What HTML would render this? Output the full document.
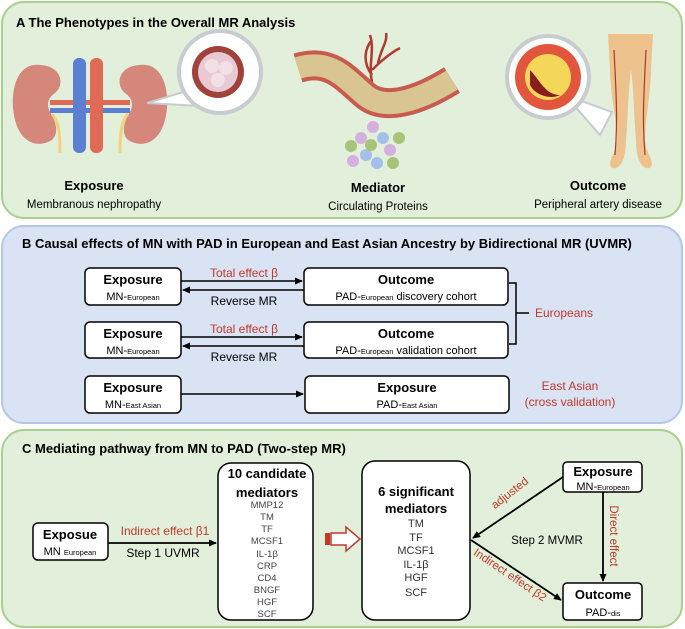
<!DOCTYPE html>
<html><head><meta charset="utf-8"><style>
html,body{margin:0;padding:0;background:#fff}
svg{display:block}
text{font-family:"Liberation Sans",sans-serif}
.b{font-weight:bold}
</style></head><body>
<svg width="685" height="629" viewBox="0 0 685 629" xmlns="http://www.w3.org/2000/svg">
<defs>
<marker id="ah" markerWidth="8" markerHeight="8" refX="7" refY="4" orient="auto" markerUnits="userSpaceOnUse"><path d="M0,0.5 L8,4 L0,7.5 z" fill="#000"/></marker>
</defs>
<!-- Panel A -->
<rect x="2" y="2" width="680" height="216" rx="22" fill="#e2efda" stroke="#a9d18e" stroke-width="2"/>
<text x="16" y="27" font-size="13" class="b">A The Phenotypes in the Overall MR Analysis</text>
<!-- kidneys -->
<path d="M40,65 C15,62 10,95 14,115 C18,140 35,150 52,140 C60,132 55,120 50,112 C46,104 48,98 55,93 C65,85 62,66 40,65 Z" fill="#d4877a"/>
<path d="M140,65 C165,62 170,95 166,115 C162,140 145,150 128,140 C120,132 125,120 130,112 C134,104 132,98 125,93 C115,85 118,66 140,65 Z" fill="#d4877a"/>
<rect x="50" y="100" width="80" height="5" fill="#e06a55"/>
<rect x="50" y="108" width="80" height="5" fill="#5b7fd1"/>
<path d="M52,114 C58,120 60,130 60,153" stroke="#f1d37a" stroke-width="3" fill="none"/>
<path d="M128,114 C122,120 120,130 120,153" stroke="#f1d37a" stroke-width="3" fill="none"/>
<rect x="73" y="58" width="13" height="95" rx="6" fill="#5b7fd1"/>
<rect x="90" y="58" width="13" height="95" rx="6" fill="#e06a55"/>
<!-- magnifier -->
<path d="M147,103 L190,90 L200,106 Z" fill="#fff" stroke="#c8ccd0" stroke-width="2"/>
<circle cx="220" cy="72" r="41" fill="#fff" stroke="#c8ccd0" stroke-width="4"/>
<circle cx="218" cy="72" r="26" fill="#a0413a"/>
<circle cx="218" cy="72" r="20" fill="#e8c9d4"/>
<circle cx="212" cy="66" r="7" fill="#f3e0e6"/><circle cx="226" cy="68" r="7" fill="#f3e0e6"/><circle cx="218" cy="80" r="7" fill="#f3e0e6"/>
<!-- vessel -->
<path d="M372,82 C368,65 375,50 370,35 M372,70 C382,60 392,52 400,48 M378,64 C380,50 388,42 386,33 M372,75 C362,62 365,48 372,40" stroke="#b23a2f" stroke-width="2.5" fill="none"/>
<path d="M298,68 C330,58 345,78 365,95 C385,112 420,100 452,80" stroke="#c85a4e" stroke-width="30" fill="none"/>
<path d="M298,68 C330,58 345,78 365,95 C385,112 420,100 452,80" stroke="#d9c592" stroke-width="22" fill="none"/>
<g fill="#d4b0de"><circle cx="373" cy="127" r="6"/><circle cx="361" cy="138" r="6"/><circle cx="390" cy="150" r="6"/><circle cx="353" cy="161" r="6"/></g>
<g fill="#a3c0ea"><circle cx="383" cy="138" r="6"/><circle cx="366" cy="155" r="6"/><circle cx="377" cy="163" r="6"/></g>
<g fill="#a7c37a"><circle cx="351" cy="146" r="6"/><circle cx="371" cy="145" r="6"/><circle cx="399" cy="138" r="6"/><circle cx="393" cy="163" r="6"/></g>
<!-- outcome magnifier -->
<path d="M565,95 L612,112 L600,135 Z" fill="#fff" stroke="#c8ccd0" stroke-width="2"/>
<circle cx="548" cy="77" r="41" fill="#fff" stroke="#c8ccd0" stroke-width="4"/>
<circle cx="548" cy="77" r="33" fill="#e2563d"/>
<circle cx="548" cy="77" r="23" fill="#f4d758"/>
<path d="M530,70 C540,80 545,95 560,95 C550,100 535,95 530,85 Z" fill="#8a1d1d"/>
<!-- legs -->
<path d="M608,34 L653,34 L651,70 C650,100 645,120 645,140 C646,155 656,162 650,168 C642,170 636,160 636,140 C634,120 634,90 631,70 C628,90 628,120 626,140 C626,160 620,170 612,168 C606,162 616,155 617,140 C617,120 611,100 610,70 Z" fill="#eec28c"/>
<path d="M614,50 C616,90 618,120 615,155 M646,50 C644,90 642,120 645,155" stroke="#a83a2c" stroke-width="1.2" fill="none"/>
<text x="94" y="190" font-size="13" class="b" text-anchor="middle">Exposure</text>
<text x="94" y="208" font-size="11.5" text-anchor="middle">Membranous nephropathy</text>
<text x="378" y="192" font-size="13" class="b" text-anchor="middle">Mediator</text>
<text x="378" y="210" font-size="11.5" text-anchor="middle">Circulating Proteins</text>
<text x="598" y="190" font-size="13" class="b" text-anchor="middle">Outcome</text>
<text x="598" y="208" font-size="11.5" text-anchor="middle">Peripheral artery disease</text>

<!-- Panel B -->
<rect x="2" y="226" width="680" height="197" rx="22" fill="#dae3f3" stroke="#b4c7e7" stroke-width="2"/>
<text x="22" y="248" font-size="13" class="b">B Causal effects of MN with PAD in European and East Asian Ancestry by Bidirectional MR (UVMR)</text>
<g fill="#fff" stroke="#000" stroke-width="1.5">
<rect x="85" y="268" width="96" height="37" rx="5"/>
<rect x="304" y="268" width="204" height="37" rx="5"/>
<rect x="85" y="322" width="96" height="36" rx="5"/>
<rect x="304" y="322" width="204" height="36" rx="5"/>
<rect x="85" y="376" width="96" height="37" rx="5"/>
<rect x="305" y="376" width="204" height="37" rx="5"/>
</g>
<g stroke="#000" stroke-width="1.5" fill="none">
<line x1="181" y1="281" x2="302" y2="281" marker-end="url(#ah)"/>
<line x1="304" y1="290" x2="183" y2="290" marker-end="url(#ah)"/>
<line x1="181" y1="337" x2="302" y2="337" marker-end="url(#ah)"/>
<line x1="304" y1="346" x2="183" y2="346" marker-end="url(#ah)"/>
<line x1="181" y1="394" x2="303" y2="394" marker-end="url(#ah)"/>
<path d="M509,283 L516,283 L516,344 L509,344 M516,313 L529,313"/>
</g>
<g font-size="12" text-anchor="middle">
<text x="244" y="277" fill="#c0392b">Total effect β</text>
<text x="244" y="305">Reverse MR</text>
<text x="244" y="333" fill="#c0392b">Total effect β</text>
<text x="244" y="361">Reverse MR</text>
<text x="570" y="390" fill="#c0392b">East Asian</text>
<text x="570" y="406" fill="#c0392b">(cross validation)</text>
</g>
<text x="535" y="317" font-size="12" fill="#c0392b">Europeans</text>
<g text-anchor="middle">
<text x="133" y="284" font-size="13" class="b">Exposure</text>
<text x="133" y="300" font-size="11">MN-<tspan font-size="7.5">European</tspan></text>
<text x="406" y="284" font-size="13" class="b">Outcome</text>
<text x="406" y="300" font-size="11">PAD-<tspan font-size="7.5">European</tspan> discovery cohort</text>
<text x="133" y="338" font-size="13" class="b">Exposure</text>
<text x="133" y="354" font-size="11">MN-<tspan font-size="7.5">European</tspan></text>
<text x="406" y="338" font-size="13" class="b">Outcome</text>
<text x="406" y="354" font-size="11">PAD-<tspan font-size="7.5">European</tspan>  validation cohort</text>
<text x="133" y="392" font-size="13" class="b">Exposure</text>
<text x="133" y="408" font-size="11">MN-<tspan font-size="7.5">East Asian</tspan></text>
<text x="407" y="392" font-size="13" class="b">Exposure</text>
<text x="407" y="408" font-size="11">PAD-<tspan font-size="7.5">East Asian</tspan></text>
</g>

<!-- Panel C -->
<rect x="2" y="430" width="680" height="197" rx="22" fill="#e2efda" stroke="#a9d18e" stroke-width="2"/>
<text x="22" y="453" font-size="13" class="b">C Mediating pathway from MN to PAD (Two-step MR)</text>
<g fill="#fff" stroke="#000" stroke-width="1.5">
<rect x="33" y="523" width="75" height="37" rx="5"/>
<rect x="218" y="463" width="95" height="157" rx="13"/>
<rect x="362" y="461" width="108" height="159" rx="13"/>
<rect x="563" y="462" width="79" height="30" rx="4"/>
<rect x="563" y="583" width="79" height="37" rx="4"/>
</g>
<g stroke="#000" stroke-width="1.8" fill="none">
<line x1="108" y1="543" x2="216" y2="543" marker-end="url(#ah)"/>
<line x1="563" y1="477" x2="473" y2="538" marker-end="url(#ah)"/>
<line x1="471" y1="540" x2="561" y2="600" marker-end="url(#ah)"/>
<line x1="603" y1="492" x2="603" y2="581" marker-end="url(#ah)"/>
</g>
<!-- hollow arrow -->
<path d="M331,533 L346,533 L346,527 L360,539 L346,551 L346,545 L331,545 Z" fill="#fff" stroke="#c0392b" stroke-width="1.5"/>
<rect x="325" y="533" width="5" height="12" fill="#c0392b"/>
<text x="70" y="539" font-size="13" class="b" text-anchor="middle">Exposue</text>
<text x="70" y="555" font-size="11" text-anchor="middle">MN <tspan font-size="7.5">European</tspan></text>
<text x="165" y="535" font-size="12" fill="#c0392b" text-anchor="middle">Indirect effect β1</text>
<text x="163" y="557" font-size="12" text-anchor="middle">Step 1 UVMR</text>
<g text-anchor="middle">
<text x="267" y="478" font-size="13" class="b">10 candidate</text>
<text x="267" y="497" font-size="13" class="b">mediators</text>
<g font-size="9.5" fill="#444">
<text x="267" y="508">MMP12</text><text x="267" y="520">TM</text><text x="267" y="532">TF</text>
<text x="267" y="544">MCSF1</text><text x="267" y="557">IL-1β</text><text x="267" y="569">CRP</text>
<text x="267" y="581">CD4</text><text x="267" y="593">BNGF</text><text x="267" y="605">HGF</text>
<text x="267" y="617">SCF</text></g>
<text x="416" y="496" font-size="13" class="b">6 significant</text>
<text x="416" y="513" font-size="13" class="b">mediators</text>
<g font-size="11" fill="#333">
<text x="416" y="527">TM</text><text x="416" y="541">TF</text><text x="416" y="554">MCSF1</text>
<text x="416" y="568">IL-1β</text><text x="416" y="581">HGF</text><text x="416" y="596">SCF</text></g>
<text x="603" y="476" font-size="13" class="b">Exposure</text>
<text x="603" y="490" font-size="11">MN-<tspan font-size="7.5">European</tspan></text>
<text x="603" y="599" font-size="13" class="b">Outcome</text>
<text x="603" y="616" font-size="11">PAD-<tspan font-size="7.5">dis</tspan></text>
</g>
<text x="547" y="544" font-size="11.5" text-anchor="middle">Step 2 MVMR</text>
<text transform="translate(512,496) rotate(-38)" font-size="11.5" fill="#c0392b" text-anchor="middle">adjusted</text>
<text transform="translate(508,578) rotate(34)" font-size="11.5" fill="#c0392b" text-anchor="middle">Indirect effect β2</text>
<text transform="translate(610,536) rotate(90)" font-size="11.5" fill="#c0392b" text-anchor="middle">Direct effect</text>
</svg>
</body></html>
